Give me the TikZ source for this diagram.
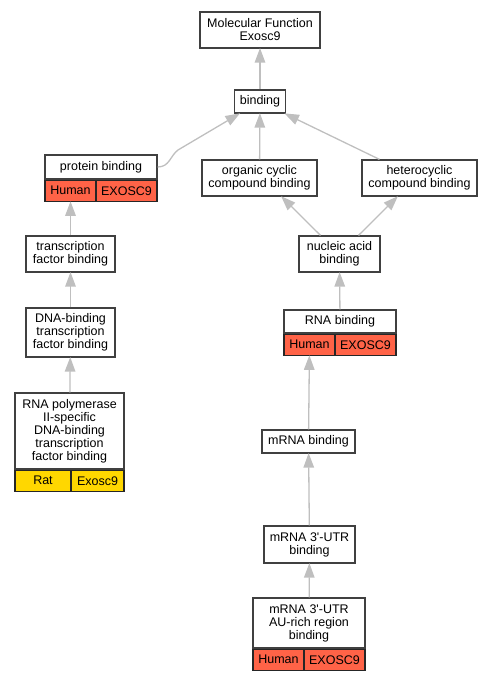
\documentclass[tikz,border=0pt]{standalone}
\usepackage{fontspec}
\setmainfont{Liberation Sans}
\usetikzlibrary{arrows.meta,positioning}
\definecolor{hsred}{HTML}{FF6347}
\definecolor{ratgold}{HTML}{FFD700}

\begin{document}
\begin{tikzpicture}[x=1pt, y=-1pt,
  term/.style={draw=black!75, line width=1.2pt, fill=white, inner sep=0pt, align=center, font=\fontsize{12.5}{13}\selectfont},
  sp/.style={draw=black!85, line width=1.2pt, fill=hsred, inner sep=0pt, minimum height=21pt, font=\fontsize{12.5}{13}\selectfont},
  rat/.style={sp, fill=ratgold},
  edge/.style={draw=black!25, line width=1.3pt, -{Triangle[width=10.5pt,length=14.5pt]}, shorten >=-0.5pt}
]
\useasboundingbox (0,0) rectangle (493,680);

% GO terms
\node[term, minimum width=120pt, minimum height=36pt] (mf) at (260,30) {Molecular Function\\Exosc9};
\node[term, minimum width=51pt, minimum height=23pt] (bind) at (260,101.5) {binding};
\node[term, minimum width=112pt, minimum height=24pt] (prot) at (101,167) {protein binding};
\node[term, minimum width=115pt, minimum height=36pt] (org) at (259.5,178) {organic cyclic\\compound binding};
\node[term, minimum width=115pt, minimum height=36pt] (het) at (419.5,178) {heterocyclic\\compound binding};
\node[term, minimum width=81pt, minimum height=36pt] (nuc) at (339.5,254) {nucleic acid\\binding};
\node[term, minimum width=89pt, minimum height=36pt] (tfb) at (70.5,254) {transcription\\factor binding};
\node[term, minimum width=89pt, minimum height=49pt] (dna) at (70.5,332.5) {DNA-binding\\transcription\\factor binding};
\node[term, minimum width=109pt, minimum height=76pt] (pol) at (69.5,431) {RNA polymerase\\II-specific\\DNA-binding\\transcription\\factor binding};
\node[term, minimum width=112pt, minimum height=23pt] (rna) at (340,321.5) {RNA binding};
\node[term, minimum width=93pt, minimum height=23pt] (mrna) at (308.5,441.5) {mRNA binding};
\node[term, minimum width=91pt, minimum height=37pt] (utr) at (309.5,544.5) {mRNA 3\textquotesingle-UTR\\binding};
\node[term, minimum width=112pt, minimum height=50pt] (au) at (309,623) {mRNA 3\textquotesingle-UTR\\AU-rich region\\binding};

% annotation rows
\node[sp, minimum width=51pt, below right=0pt and 0pt of prot.south west] (protsp) {Human};
\node[sp, minimum width=61pt, below left=0pt and 0pt of prot.south east] (protgn) {EXOSC9};
\node[sp, minimum width=51pt, below right=0pt and 0pt of rna.south west] (rnasp) {Human};
\node[sp, minimum width=61pt, below left=0pt and 0pt of rna.south east] (rnagn) {EXOSC9};
\node[sp, minimum width=51pt, below right=0pt and 0pt of au.south west] (ausp) {Human};
\node[sp, minimum width=61pt, below left=0pt and 0pt of au.south east] (augn) {EXOSC9};
\node[rat, minimum width=56pt, below right=0pt and 0pt of pol.south west] (polsp) {Rat};
\node[rat, minimum width=53pt, below left=0pt and 0pt of pol.south east] (polgn) {Exosc9};

\coordinate (bend) at (178,150);

% is_a edges
\draw[edge] (bind) -- (mf);
\draw[edge] (org) -- (bind);
\draw[edge] ([xshift=-40pt]het.north) -- (bind);
\draw[edge] (prot.east) .. controls +(12,0) and +(-8,6) .. (bend) -- (bind);
\draw[edge] ([xshift=-19pt]nuc.north) -- ([xshift=22pt]org.south);
\draw[edge] ([xshift=19pt]nuc.north) -- ([xshift=-22pt]het.south);
\draw[edge] (rna) -- (nuc);
\draw[edge] (mrna) -- (rnasp);
\draw[edge] (utr) -- (mrna);
\draw[edge] (au) -- (utr);
\draw[edge] (tfb) -- (protsp);
\draw[edge] (dna) -- (tfb);
\draw[edge] (pol) -- (dna);
\end{tikzpicture}
\end{document}
